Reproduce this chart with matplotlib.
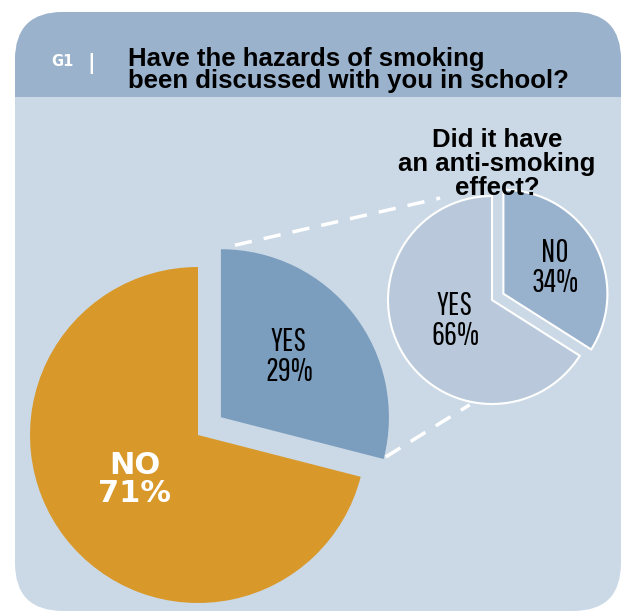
import numpy as np
import matplotlib
matplotlib.use('Agg')
import matplotlib.pyplot as plt
from matplotlib.patches import FancyBboxPatch, Rectangle

# survey answers
main_labels = ['YES', 'NO']
main_values = [29, 71]
sub_labels = ['NO', 'YES']
sub_values = [34, 66]

title = 'Have the hazards of smoking\nbeen discussed with you in school?'
sub_title = 'Did it have\nan anti-smoking\neffect?'

W, H = 622, 611
c_head = '#9bb2cc'
c_body = '#cbd9e6'
c_orange = '#d8992a'
c_yes = '#7b9dbe'
c_sub_yes = '#b9c9db'
c_sub_no = '#98b1cc'

head_font = 'Liberation Sans'
wide_font = 'DejaVu Sans'
narrow = 'Pathway Gothic One'

fig = plt.figure(figsize=(W / 100, H / 100), dpi=100)
ax = fig.add_axes([0, 0, 1, 1])

def py(y):
    # pixel row -> data y
    return H - y

# panel
panel = FancyBboxPatch((15 + 48, py(611) + 48), 606 - 96, 599 - 96,
                       boxstyle='round,pad=48', fc=c_body, ec='none', zorder=0)
ax.add_patch(panel)
head = FancyBboxPatch((15 + 48, py(611) + 48), 606 - 96, 599 - 96,
                      boxstyle='round,pad=48', fc=c_head, ec='none', zorder=1)
ax.add_patch(head)
clip = Rectangle((0, py(97)), W, 97, transform=ax.transData)
head.set_clip_path(clip)

ax.text(51, py(66), 'G1', color='white', fontsize=10.5, fontweight='bold',
        family=wide_font, va='baseline', ha='left', zorder=3)
ax.text(87, py(69), '|', color='white', fontsize=15, fontweight='bold',
        family=wide_font, va='baseline', ha='left', zorder=3)
ax.text(128, py(88), title, color='black', fontsize=18.5, fontweight='bold',
        family=head_font, va='baseline', ha='left', linespacing=0.9, zorder=3)

# big pie
big_c = (198, py(435))
big_r = 168
wedges, _ = ax.pie(main_values, colors=[c_yes, c_orange], startangle=90,
                   counterclock=False, explode=[29, 0], center=big_c,
                   radius=big_r, wedgeprops=dict(linewidth=0), frame=True)
for w in wedges:
    w.set_zorder(2)

# small pie
small_c = (492, py(300))
small_r = 104
sw, _ = ax.pie(sub_values, colors=[c_sub_no, c_sub_yes], startangle=90,
               counterclock=False, explode=[13, 0], center=small_c,
               radius=small_r, wedgeprops=dict(linewidth=1.5, edgecolor='white'),
               frame=True)
for w in sw:
    w.set_zorder(2)

# dashed connectors from the exploded wedge to the small pie
yes_w = wedges[0]
apex = np.array(yes_w.center)
a1, a2 = np.radians(yes_w.theta2), np.radians(yes_w.theta1)
p_top = apex + big_r * np.array([np.cos(a1), np.sin(a1)]) + np.array([14, 4])
p_bot = apex + big_r * np.array([np.cos(a2), np.sin(a2)]) + np.array([2, 2])
q_top = np.array(small_c) + small_r * 1.1 * np.array([np.cos(np.radians(117)), np.sin(np.radians(117))])
q_bot = np.array(small_c) + small_r * 1.03 * np.array([np.cos(np.radians(-102)), np.sin(np.radians(-102))])
for p, q in [(p_top, q_top), (p_bot, q_bot)]:
    ax.plot([p[0], q[0]], [p[1], q[1]], color='white', lw=2.5,
            dashes=(5, 3.5), solid_capstyle='butt', zorder=1.5)

ax.text(289, py(357), f'{main_labels[0]}\n{main_values[0]}%', ha='center', va='center',
        fontsize=23, family=narrow, linespacing=1.0, zorder=4)
ax.text(135, py(502), f'{main_labels[1]}\n{main_values[1]}%', ha='center', va='baseline',
        fontsize=22, fontweight='bold', color='white', family=wide_font,
        linespacing=0.96, zorder=4)
ax.text(555, py(268), f'{sub_labels[0]}\n{sub_values[0]}%', ha='center', va='center',
        fontsize=23, family=narrow, linespacing=1.0, zorder=4)
ax.text(455, py(321), f'{sub_labels[1]}\n{sub_values[1]}%', ha='center', va='center',
        fontsize=23, family=narrow, linespacing=1.0, zorder=4)
ax.text(497, py(195), sub_title, ha='center', va='baseline', fontsize=18.5,
        fontweight='bold', family=head_font, linespacing=1.0, zorder=4)

ax.set_xlim(0, W)
ax.set_ylim(0, H)
ax.set_aspect('auto')
ax.axis('off')
fig.savefig('out.png', dpi=100)
